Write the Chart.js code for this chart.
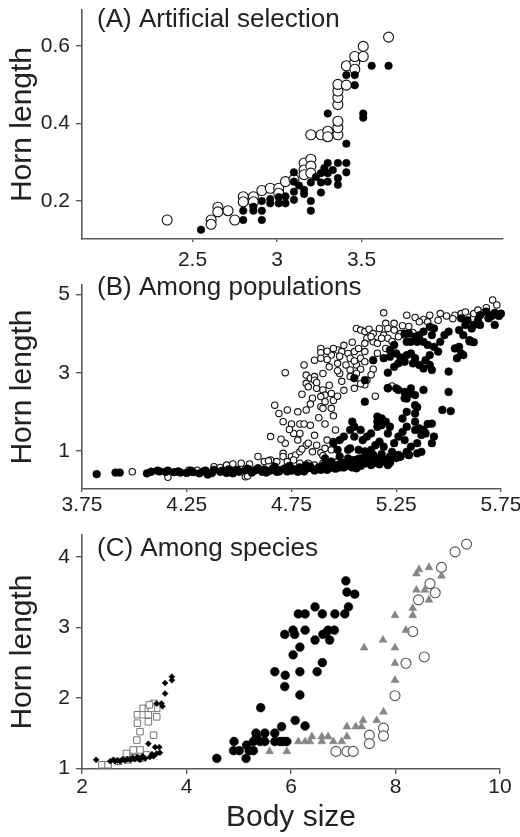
<!DOCTYPE html>
<html>
<head>
<meta charset="utf-8">
<script src="https://cdn.jsdelivr.net/npm/chart.js@4.4.0/dist/chart.umd.min.js"></script>
<style>
  html, body { margin: 0; padding: 0; background: #fff; overflow: hidden; }
  #figura { position: relative; width: 520px; height: 837px; overflow: hidden; }
  #figura canvas { position: absolute; left: 0; }
</style>
</head>
<body>
<div id="figura">
  <canvas id="painelA" width="520" height="280" style="top:-10px"></canvas>
  <canvas id="painelB" width="540" height="250" style="top:265px"></canvas>
  <canvas id="painelC" width="520" height="322" style="top:515px"></canvas>
</div>
<script>
// --- DADOS: (A) seleção artificial ---
const aAbertoX = [2.35, 2.61, 2.61, 2.65, 2.65, 2.71, 2.75, 2.80, 2.80, 2.86, 2.86, 2.91, 2.96, 3.01, 3.01, 3.05, 3.10, 3.16, 3.16, 3.16,
    3.20, 3.20, 3.20, 3.20, 3.26, 3.30, 3.30, 3.36, 3.36, 3.36, 3.36, 3.36, 3.36, 3.36, 3.41, 3.41, 3.46, 3.46, 3.46, 3.51, 3.51, 3.66];
const aAbertoY = [0.151, 0.151, 0.140, 0.184, 0.172, 0.175, 0.151, 0.211, 0.198, 0.211, 0.198, 0.227, 0.233, 0.233, 0.220, 0.250, 0.256, 0.298, 0.280, 0.268,
    0.308, 0.290, 0.272, 0.371, 0.371, 0.380, 0.366, 0.371, 0.389, 0.406, 0.449, 0.467, 0.484, 0.501, 0.499, 0.549, 0.558, 0.573, 0.540, 0.573, 0.599, 0.623];
const aCheioX = [2.55, 2.80, 2.80, 2.86, 2.86, 2.91, 2.91, 2.91, 2.96, 2.96, 3.01, 3.01, 3.05, 3.05, 3.10, 3.10, 3.10, 3.10, 3.16, 3.16,
    3.20, 3.20, 3.20, 3.26, 3.26, 3.26, 3.30, 3.30, 3.30, 3.30, 3.36, 3.36, 3.36, 3.41, 3.41, 3.41, 3.41, 3.46, 3.46, 3.51,
    3.51, 3.56, 3.66, 3.13, 3.23, 3.28, 3.33];
const aCheioY = [0.126, 0.151, 0.175, 0.175, 0.185, 0.151, 0.175, 0.200, 0.194, 0.205, 0.194, 0.210, 0.194, 0.212, 0.203, 0.224, 0.250, 0.274, 0.229, 0.218,
    0.248, 0.200, 0.175, 0.222, 0.272, 0.248, 0.298, 0.272, 0.250, 0.426, 0.298, 0.259, 0.242, 0.298, 0.274, 0.348, 0.525, 0.525, 0.499, 0.426,
    0.415, 0.549, 0.549, 0.240, 0.262, 0.285, 0.280];

// --- DADOS: (B) entre populações ---
const bAbertoX = [5.71, 5.73, 5.19, 5.30, 5.34, 5.38, 5.41, 5.45, 5.46, 5.53,
    5.56, 5.59, 5.62, 5.66, 5.24, 5.20, 5.21, 5.24, 5.27, 5.06,
    5.08, 5.10, 5.12, 5.14, 5.17, 5.19, 5.21, 5.11, 5.14, 5.10,
    5.16, 5.18, 5.13, 5.26, 5.29, 5.33, 4.89, 4.89, 4.94, 4.97,
    4.99, 5.02, 5.05, 5.07, 5.10, 5.03, 5.08, 5.10, 4.92, 4.97,
    5.01, 5.06, 5.03, 5.08, 5.14, 5.06, 5.11, 5.10, 4.81, 4.86,
    4.89, 4.72, 4.82, 4.84, 4.82, 4.86, 4.86, 4.83, 4.87, 4.90,
    4.91, 4.89, 4.94, 4.91, 4.95, 4.98, 5.03, 5.05, 5.15, 5.23,
    4.67, 4.69, 4.73, 4.78, 4.82, 4.89, 4.90, 4.94, 4.71, 4.75,
    4.79, 4.81, 4.84, 4.76, 4.79, 4.91, 4.96, 4.65, 4.72, 4.78,
    4.82, 4.83, 4.87, 4.92, 4.95, 4.98, 4.71, 4.75, 4.77, 4.79,
    4.85, 4.89, 4.91, 4.94, 3.99, 4.16, 4.26, 4.30, 4.38, 4.41,
    4.44, 4.47, 4.51, 4.55, 4.59, 4.62, 4.65, 4.68, 4.71, 4.73,
    4.76, 4.79, 4.83, 4.86, 4.90, 4.94, 4.97, 4.53, 4.54, 4.64,
    5.10, 5.36, 5.49, 5.28, 4.92, 4.95, 5.00, 5.04, 4.98, 5.05,
    4.93, 4.97, 4.90, 4.87, 4.93, 4.99, 4.80, 4.85, 4.84, 4.97,
    5.00, 5.08, 5.13, 5.16, 5.20, 5.23, 5.31, 5.40, 5.52, 5.58,
    5.64, 5.68, 4.74, 4.70, 4.86, 4.88, 4.95, 4.80, 4.90];
const bAbertoY = [4.86, 4.73, 4.53, 4.47, 4.41, 4.36, 4.47, 4.34, 4.51, 4.47,
    4.51, 4.43, 4.51, 4.53, 4.26, 4.26, 4.13, 4.09, 4.00, 4.13,
    4.09, 4.05, 4.11, 4.00, 4.13, 3.96, 3.88, 3.88, 3.79, 3.75,
    3.75, 3.88, 3.92, 3.92, 3.96, 4.02, 3.62, 3.51, 3.45, 3.58,
    3.54, 3.49, 3.54, 3.62, 3.54, 3.37, 3.37, 3.28, 3.34, 3.24,
    3.20, 3.20, 3.07, 3.09, 3.09, 2.98, 2.81, 2.69, 3.20, 3.32,
    3.37, 3.00, 2.94, 2.86, 2.73, 2.90, 2.81, 2.64, 2.60, 2.56,
    2.43, 2.39, 2.47, 2.26, 2.29, 2.98, 2.90, 2.60, 2.40, 2.66,
    2.17, 1.96, 2.05, 2.00, 2.05, 2.13, 2.09, 2.09, 1.75, 1.69,
    1.69, 1.69, 1.66, 1.45, 1.45, 1.69, 1.54, 1.37, 1.20, 1.28,
    1.15, 1.20, 1.15, 1.28, 1.24, 1.28, 0.94, 0.86, 0.90, 0.98,
    0.98, 0.96, 1.07, 1.03, 0.47, 0.33, 0.51, 0.51, 0.60, 0.58,
    0.64, 0.67, 0.69, 0.67, 0.86, 0.73, 0.77, 0.73, 0.86, 0.73,
    0.77, 0.69, 0.69, 0.64, 0.69, 0.73, 0.73, 0.34, 0.36, 0.75,
    1.00, 4.30, 4.45, 4.20, 3.55, 3.62, 3.70, 3.78, 3.42, 3.30,
    3.15, 3.05, 2.98, 2.75, 2.68, 2.78, 2.45, 2.35, 2.20, 2.40,
    2.55, 2.72, 2.95, 3.50, 3.62, 3.80, 4.18, 4.30, 4.38, 4.55,
    4.60, 4.66, 1.55, 1.30, 1.40, 1.85, 1.90, 1.05, 0.88];

// faixa baixa (corpos pequenos)
const bBaixoX = [3.82, 3.91, 3.93, 4.06, 4.08, 4.11, 4.12, 4.15, 4.16, 4.19,
    4.21, 4.22, 4.25, 4.28, 4.31, 4.33, 4.34, 4.37, 4.38, 4.41,
    4.42, 4.45, 4.46, 4.49, 4.50, 4.53, 4.54, 4.57, 4.58, 4.61,
    4.62, 4.65, 4.66, 4.69, 4.70, 4.72, 4.75, 4.76, 4.79, 4.80,
    4.83, 4.84, 4.87, 4.88, 4.90, 4.93, 4.94, 4.97, 4.98, 5.01,
    5.02, 5.05, 5.06, 5.09, 5.10, 5.12, 5.15, 5.16, 5.19, 5.20,
    5.22, 5.25, 4.44, 4.56, 4.63, 4.68, 4.73, 4.78, 4.81, 4.86,
    4.89, 4.92, 4.96, 5.00, 5.04, 5.08, 5.13, 5.17, 4.27, 4.35,
    4.47, 4.59, 4.67, 4.74, 4.82, 4.91, 4.99, 5.03, 5.07, 5.11,
    5.14, 5.18, 5.23, 5.27, 5.31, 5.35];
const bBaixoY = [0.41, 0.45, 0.45, 0.43, 0.47, 0.50, 0.48, 0.47, 0.50, 0.46,
    0.48, 0.45, 0.44, 0.46, 0.43, 0.48, 0.50, 0.44, 0.52, 0.47,
    0.50, 0.53, 0.49, 0.52, 0.47, 0.51, 0.55, 0.49, 0.52, 0.47,
    0.53, 0.50, 0.55, 0.48, 0.52, 0.56, 0.50, 0.54, 0.58, 0.52,
    0.56, 0.60, 0.54, 0.58, 0.62, 0.56, 0.60, 0.64, 0.58, 0.66,
    0.62, 0.70, 0.64, 0.72, 0.68, 0.76, 0.70, 0.80, 0.74, 0.78,
    0.70, 0.82, 0.44, 0.45, 0.45, 0.47, 0.48, 0.47, 0.48, 0.50,
    0.52, 0.52, 0.55, 0.58, 0.58, 0.62, 0.64, 0.66, 0.50, 0.40,
    0.43, 0.56, 0.60, 0.62, 0.64, 0.66, 0.70, 0.76, 0.80, 0.86,
    0.90, 0.92, 0.88, 0.86, 0.90, 0.94];

// nuvem intermediária (chifres curtos)
const bMedioX = [5.16, 5.18, 5.18, 5.16, 5.20, 5.22, 5.21, 5.16, 5.13, 5.11,
    5.08, 5.09, 5.05, 5.03, 5.04, 5.05, 5.24, 5.26, 5.29, 5.28,
    5.30, 5.34, 5.34, 5.36, 5.37, 5.39, 5.38, 5.40, 5.42, 5.37,
    5.32, 5.35, 4.98, 5.00, 4.95, 4.97, 5.02, 5.03, 5.07, 5.10,
    5.13, 5.15, 5.17, 5.19, 5.23, 5.22, 5.26, 5.27, 5.30, 5.31,
    4.98, 5.02, 5.05, 5.08, 5.11, 5.14, 5.18, 5.21, 5.22, 4.94,
    4.91, 4.95, 4.97, 5.00, 5.03, 5.06, 5.28, 5.34, 5.30, 5.42,
    5.43, 5.10, 5.21];
const bMedioY = [1.88, 1.83, 1.66, 1.75, 1.75, 1.62, 1.45, 1.62, 1.45, 1.37,
    1.54, 1.28, 1.62, 1.54, 1.75, 1.37, 1.20, 1.37, 1.28, 1.49,
    1.62, 1.54, 1.75, 1.58, 1.41, 1.45, 1.54, 1.69, 1.20, 0.98,
    1.11, 1.20, 1.28, 1.37, 1.20, 1.03, 1.03, 1.07, 1.03, 0.98,
    1.03, 1.15, 1.24, 1.11, 0.98, 0.86, 0.90, 0.86, 0.98, 0.90,
    0.86, 0.81, 0.77, 0.81, 0.77, 0.73, 0.75, 0.64, 0.73, 0.73,
    0.81, 0.60, 0.64, 0.60, 0.64, 0.56, 1.83, 1.96, 2.00, 1.70,
    1.37, 2.26, 2.61];

// nuvem alta (chifres longos)
const bAltoX = [5.72, 5.75, 5.70, 5.68, 5.65, 5.64, 5.62, 5.65, 5.69, 5.72,
    5.71, 5.74, 5.59, 5.56, 5.58, 5.61, 5.55, 5.57, 5.60, 5.50,
    5.48, 5.46, 5.43, 5.41, 5.38, 5.36, 5.34, 5.31, 5.29, 5.30,
    5.32, 5.35, 5.38, 5.42, 5.40, 5.43, 5.45, 5.24, 5.22, 5.25,
    5.22, 5.27, 5.30, 5.32, 5.34, 5.33, 5.36, 5.39, 5.41, 5.38,
    5.42, 5.41, 5.55, 5.56, 5.57, 5.53, 5.54, 5.19, 5.21, 5.24,
    5.26, 5.29, 5.14, 5.10, 5.05, 5.21, 5.25, 5.26, 5.29, 5.32,
    5.32, 5.34, 5.30, 5.34, 5.50, 5.50, 5.47, 5.51, 5.35, 5.38,
    5.29, 5.62, 5.60];
const bAltoY = [4.53, 4.51, 4.43, 4.56, 4.47, 4.34, 4.22, 4.22, 4.39, 4.22,
    4.47, 4.45, 4.34, 4.39, 4.22, 4.13, 4.09, 3.96, 3.83, 4.05,
    3.96, 3.79, 4.13, 4.17, 4.05, 3.96, 3.92, 4.00, 4.00, 3.79,
    3.79, 3.79, 3.79, 3.96, 3.71, 3.66, 3.54, 3.71, 3.58, 3.49,
    3.41, 3.39, 3.45, 3.49, 3.37, 3.24, 3.20, 3.32, 3.45, 3.11,
    3.07, 3.20, 3.66, 3.49, 3.45, 3.62, 3.37, 3.37, 3.00, 3.15,
    3.24, 3.28, 3.32, 2.81, 2.86, 2.60, 2.60, 2.56, 2.51, 2.60,
    2.47, 2.43, 2.34, 2.17, 3.03, 2.51, 2.05, 2.02, 2.12, 2.56,
    2.35, 3.78, 3.80];

// --- DADOS: (C) entre espécies ---
const cLosangoX = [2.27, 2.54, 2.63, 2.73, 2.82, 2.92, 3.01, 3.11, 3.21, 3.30, 3.37, 3.43, 3.49, 3.27, 3.48, 3.40,
    3.43, 3.52, 3.54, 3.59, 3.59, 3.72, 3.72, 2.97, 3.06, 3.16, 3.34, 2.60, 2.68, 2.78, 2.87];
const cLosangoY = [1.12, 1.10, 1.10, 1.10, 1.11, 1.12, 1.13, 1.12, 1.14, 1.16, 1.17, 1.21, 1.22, 1.35, 1.30, 1.30,
    1.92, 1.92, 1.88, 2.06, 2.21, 2.30, 2.25, 1.15, 1.16, 1.17, 1.20, 1.12, 1.11, 1.13, 1.13];
const cQuadradoX = [2.38, 2.50, 2.85, 2.98, 3.05, 3.06, 3.06, 3.17, 3.17, 3.27, 3.27, 3.27, 3.37,
    3.43, 3.43, 3.37, 3.11, 3.11, 3.24, 2.89, 3.12, 3.33, 3.29, 2.70, 3.00];
const cQuadradoY = [1.05, 1.05, 1.21, 1.26, 1.40, 1.64, 1.76, 1.76, 1.85, 1.85, 1.76, 1.66, 1.92,
    1.85, 1.73, 1.47, 1.52, 1.26, 1.19, 1.12, 1.14, 1.85, 1.90, 1.10, 1.15];
const cCheioX = [4.58, 4.91, 4.90, 5.01, 5.15, 5.14, 5.28, 5.28, 5.34, 5.41, 5.33, 5.50, 5.50, 5.42, 5.69, 5.69, 5.79, 5.92,
    5.82, 5.69, 5.89, 5.88, 5.88, 6.04, 6.07, 6.27, 6.08, 6.27, 6.04, 6.17, 6.17, 6.17, 6.14, 6.27, 6.46, 6.60,
    6.46, 6.50, 6.60, 6.61, 6.71, 6.83, 6.74, 6.84, 7.03, 7.10, 7.05, 7.07, 7.22, 6.67, 5.85, 5.20];
const cCheioY = [1.14, 1.38, 1.25, 1.25, 1.33, 1.14, 1.25, 1.38, 1.45, 1.38, 1.50, 1.50, 1.38, 1.86, 1.50, 1.38, 1.38, 1.38,
    1.59, 2.37, 2.32, 2.16, 2.90, 2.96, 2.90, 2.96, 1.68, 1.60, 2.61, 2.72, 2.37, 2.04, 3.19, 3.19, 3.29, 3.19,
    2.82, 2.37, 2.50, 2.90, 2.96, 2.96, 2.82, 3.19, 3.19, 3.29, 3.66, 3.50, 3.47, 2.92, 1.38, 1.25];
const cTrianguloX = [5.59, 5.92, 6.14, 6.27, 6.40, 6.36, 6.59, 6.71, 6.59, 6.81, 6.97, 7.07, 7.07, 7.24, 7.38, 7.35, 7.64,
    7.77, 7.40, 7.76, 7.99, 7.99, 7.99, 7.99, 8.20, 8.33, 8.33, 8.40, 8.40, 8.45, 8.56, 8.64, 8.64, 8.88];
const cTrianguloY = [1.24, 1.24, 1.38, 1.38, 1.45, 1.38, 1.45, 1.45, 1.38, 1.38, 1.38, 1.59, 1.45, 1.59, 1.68, 1.59, 1.68,
    1.80, 2.71, 2.82, 2.71, 3.17, 2.49, 2.25, 2.96, 3.27, 3.17, 3.53, 3.76, 3.82, 3.53, 3.85, 3.39, 3.73];
const cAbertoX = [6.86, 7.07, 7.19, 7.50, 7.50, 7.77, 7.77, 7.99, 8.20, 8.33, 8.55, 8.44, 8.66, 8.76, 8.88, 9.14, 9.36];
const cAbertoY = [1.24, 1.24, 1.24, 1.47, 1.35, 1.57, 1.46, 2.03, 2.49, 2.94, 2.58, 3.39, 3.62, 3.49, 3.85, 4.07, 4.18];

// --- TICKS DOS EIXOS ---
const ticksAX = [2.5, 3, 3.5];
const ticksAY = [0.2, 0.4, 0.6];
const ticksBX = [3.75, 4.25, 4.75, 5.25, 5.75];
const ticksBY = [1, 3, 5];
const ticksCX = [2, 4, 6, 8, 10];
const ticksCY = [1, 2, 3, 4];

// --- ESTILO GERAL ---
const FONTE = "'Liberation Sans', Arial, Helvetica, sans-serif";
const COR_TEXTO = '#222222';
const COR_EIXO = '#5a5a5a';

Chart.defaults.font.family = FONTE;
Chart.defaults.color = COR_TEXTO;

function pontos(xs, ys) {
    return xs.map((x, i) => ({ x: x, y: ys[i] }));
}

// substitui os ticks automáticos pelos valores fixos
function fixarTicks(valores) {
    return (escala) => { escala.ticks = valores.map(v => ({ value: v })); };
}

// rótulo "(A) ..." escrito dentro da área do gráfico
const rotuloPainel = {
    id: 'rotuloPainel',
    afterDraw(chart, args, opts) {
        const ctx = chart.ctx;
        ctx.save();
        ctx.font = `26px ${FONTE}`;
        ctx.fillStyle = COR_TEXTO;
        ctx.textBaseline = 'middle';
        ctx.textAlign = 'left';
        ctx.fillText(opts.texto, opts.x, opts.y);
        ctx.restore();
    }
};

function montarEscalas(cfg) {
    return {
        x: {
            type: 'linear',
            min: cfg.xMin,
            max: cfg.xMax,
            afterBuildTicks: fixarTicks(cfg.xTicks),
            afterFit: (escala) => { escala.height = cfg.alturaEixoX; },
            border: { display: true, color: COR_EIXO, width: 1.6 },
            grid: { drawOnChartArea: false, drawTicks: true, tickLength: cfg.tickX, color: COR_EIXO, lineWidth: 1.4 },
            ticks: { autoSkip: false, maxRotation: 0, padding: cfg.padX, color: COR_TEXTO, font: { size: 21 }, callback: (v) => String(v) },
            title: cfg.tituloX
                ? { display: true, text: cfg.tituloX, color: COR_TEXTO, font: { size: 30 }, padding: { top: 0, bottom: 1 } }
                : { display: false }
        },
        y: {
            type: 'linear',
            min: cfg.yMin,
            max: cfg.yMax,
            afterBuildTicks: fixarTicks(cfg.yTicks),
            afterFit: (escala) => { escala.width = 82; },
            border: { display: true, color: COR_EIXO, width: 1.6 },
            grid: { drawOnChartArea: false, drawTicks: true, tickLength: 6, color: COR_EIXO, lineWidth: 1.4 },
            ticks: { autoSkip: false, padding: 6, color: COR_TEXTO, font: { size: 21 }, callback: (v) => String(v) },
            title: { display: true, text: 'Horn length', color: COR_TEXTO, font: { size: 30 }, padding: { top: 5, bottom: 0 } }
        }
    };
}

function criarPainel(idCanvas, datasets, cfg) {
    const ctx = document.getElementById(idCanvas).getContext('2d');
    return new Chart(ctx, {
        type: 'scatter',
        data: { datasets: datasets },
        options: {
            responsive: false,
            animation: false,
            events: [],
            layout: { padding: { top: 20, right: cfg.padDireita, left: 0, bottom: 0 } },
            scales: montarEscalas(cfg),
            plugins: {
                legend: { display: false },
                tooltip: { enabled: false },
                rotuloPainel: { texto: cfg.rotulo, x: 97, y: cfg.rotuloY }
            }
        },
        plugins: [rotuloPainel]
    });
}

// primeiro dataset da lista fica por cima
function serie(xs, ys, estilo) {
    return Object.assign({ data: pontos(xs, ys), showLine: false, clip: false }, estilo);
}

const cheio = (r) => ({ pointStyle: 'circle', pointRadius: r, pointBackgroundColor: '#000', pointBorderColor: '#000', pointBorderWidth: 0.5 });
const aberto = (r, cor) => ({ pointStyle: 'circle', pointRadius: r, pointBackgroundColor: '#fff', pointBorderColor: cor, pointBorderWidth: 1.1 });

// --- PAINEL A ---
criarPainel('painelA', [
    serie(aCheioX, aCheioY, cheio(3.8)),
    serie(aAbertoX, aAbertoY, aberto(5, '#111'))
], {
    xMin: 1.846, xMax: 4.337, xTicks: ticksAX,
    yMin: 0.102, yMax: 0.693, yTicks: ticksAY,
    alturaEixoX: 31, tickX: 3, padX: 6, padDireita: 17,
    rotulo: '(A) Artificial selection', rotuloY: 30
});

// --- PAINEL B ---
criarPainel('painelB', [
    serie(bAltoX, bAltoY, cheio(3.9)),
    serie(bMedioX, bMedioY, cheio(3.9)),
    serie(bBaixoX, bBaixoY, cheio(3.9)),
    serie(bAbertoX, bAbertoY, aberto(3.2, '#111'))
], {
    xMin: 3.75, xMax: 5.75, xTicks: ticksBX,
    yMin: 0.03, yMax: 5.24, yTicks: ticksBY,
    alturaEixoX: 26, tickX: 3, padX: 1, padDireita: 39,
    rotulo: '(B) Among populations', rotuloY: 23
});

// --- PAINEL C ---
criarPainel('painelC', [
    serie(cLosangoX, cLosangoY, { pointStyle: 'rectRot', pointRadius: 3, pointBackgroundColor: '#000', pointBorderColor: '#000', pointBorderWidth: 0.5 }),
    serie(cCheioX, cCheioY, cheio(4.4)),
    serie(cQuadradoX, cQuadradoY, { pointStyle: 'rect', pointRadius: 4.6, pointBackgroundColor: '#fff', pointBorderColor: '#777', pointBorderWidth: 1 }),
    serie(cTrianguloX, cTrianguloY, { pointStyle: 'triangle', pointRadius: 4.6, pointBackgroundColor: '#858585', pointBorderColor: '#858585', pointBorderWidth: 0.5 }),
    serie(cAbertoX, cAbertoY, aberto(5, '#555'))
], {
    xMin: 2, xMax: 10, xTicks: ticksCX,
    yMin: 0.99, yMax: 4.31, yTicks: ticksCY,
    alturaEixoX: 68, tickX: 5, padX: 1, padDireita: 20,
    tituloX: 'Body size',
    rotulo: '(C) Among species', rotuloY: 34
});
</script>
</body>
</html>
